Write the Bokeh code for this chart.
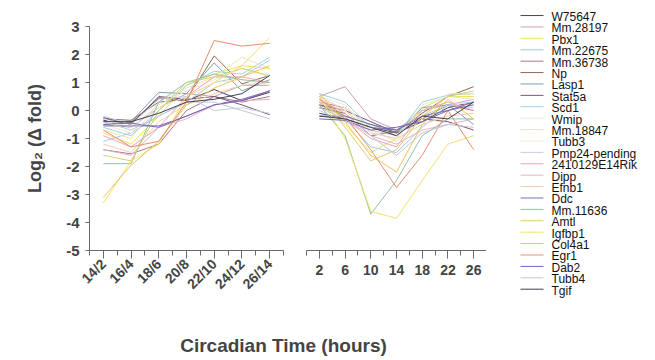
import math
from bokeh.plotting import figure
from bokeh.layouts import column, row
from bokeh.models import Range1d, FixedTicker, Label
from bokeh.core.properties import value
from bokeh.embed import file_html
from bokeh.resources import INLINE

# ---------------- data ----------------
time_labels = ["14/2", "16/4", "18/6", "20/8", "22/10", "24/12", "26/14"]
left_idx = list(range(len(time_labels)))
hours = [2, 6, 10, 14, 18, 22, 26]
y_ticks = [-5, -4, -3, -2, -1, 0, 1, 2, 3]
y_tick_labels = ["-5", "-4", "-3", "-2", "-1", "0", "1", "2", "3"]

genes = ["W75647", "Mm.28197", "Pbx1", "Mm.22675", "Mm.36738", "Np", "Lasp1",
         "Stat5a", "Scd1", "Wmip", "Mm.18847", "Tubb3", "Pmp24-pending",
         "2410129E14Rik", "Dipp", "Efnb1", "Ddc", "Mm.11636", "Amtl", "Igfbp1",
         "Col4a1", "Egr1", "Dab2", "Tubb4", "Tgif"]

# log2 fold, left panel (paired time labels)
left_values = [
    [-0.35, -0.45, 0.45, 0.35, 0.75, 0.35, 0.65],   # W75647
    [-0.5, -0.6, 0.1, 0.6, 0.5, 0.9, 0.9],          # Mm.28197
    [-0.8, -1.2, -0.2, 0.9, 1.3, 1.6, 2.6],         # Pbx1
    [-1.1, -0.8, -0.2, 0.3, 1.0, 1.2, 1.8],         # Mm.22675
    [-1.4, -1.55, -1.2, 0.0, 0.5, 0.3, 0.5],        # Mm.36738
    [-0.3, -0.35, 0.3, 0.4, 1.95, 0.95, 1.25],      # Np
    [-0.5, -0.4, 0.65, 0.6, 1.7, 0.7, 1.1],         # Lasp1
    [-0.25, -0.5, 0.5, 0.4, 0.5, 0.2, -0.15],       # Stat5a
    [-0.6, -0.9, 0.0, 0.9, 1.4, 1.3, 1.9],          # Scd1
    [-0.3, -0.6, 0.2, 0.7, 1.1, 1.5, 1.2],          # Wmip
    [-0.7, -1.0, 0.3, 0.8, 1.2, 1.9, 1.5],          # Mm.18847
    [-0.5, -0.8, 0.1, 0.5, 1.0, 1.1, 0.9],          # Tubb3
    [-0.2, -0.5, 0.4, 0.5, 0.0, 0.1, -0.1],         # Pmp24-pending
    [-0.9, -1.3, -0.6, 0.5, 1.2, 1.2, 1.0],         # 2410129E14Rik
    [-1.4, -1.6, -0.6, -0.3, 0.2, 0.35, 0.4],       # Dipp
    [-1.2, -1.5, -0.4, 0.2, 0.6, 0.9, 1.0],         # Efnb1
    [-0.55, -0.55, -0.55, -0.2, 0.2, 0.4, 0.7],     # Ddc
    [-1.9, -1.9, 0.3, 1.0, 1.3, 1.1, 1.0],          # Mm.11636
    [-1.6, -1.8, 0.0, 1.0, 1.2, 1.5, 1.25],         # Amtl
    [-3.3, -1.8, -1.2, 0.5, 1.0, 1.6, 1.5],         # Igfbp1
    [-3.1, -1.95, -1.1, 0.2, 0.8, 1.2, 1.6],        # Col4a1
    [-0.7, -1.3, -1.1, 0.3, 2.5, 2.3, 2.4],         # Egr1
    [-0.5, -0.45, -0.6, -0.2, 0.2, 0.35, 0.7],      # Dab2
    [-0.4, -0.7, -0.2, 0.3, 0.3, 0.0, -0.3],        # Tubb4
    [-0.4, -0.4, -0.1, 0.3, 0.4, 0.6, 1.25],        # Tgif
]

# log2 fold, right panel (hours)
right_values = [
    [-0.1, -0.3, -0.6, -0.8, -0.4, 0.1, 0.3],       # W75647
    [0.5, 0.85, -0.3, -0.7, 0.0, 0.2, 0.4],         # Mm.28197
    [0.3, -0.5, -1.5, -1.0, 0.1, 0.5, 0.5],         # Pbx1
    [0.4, -0.3, -1.3, -1.5, -0.6, 0.2, 0.3],        # Mm.22675
    [0.3, 0.1, -0.6, -0.7, -0.3, 0.2, 0.0],         # Mm.36738
    [0.1, -0.1, -0.9, -0.75, -0.1, 0.5, 0.85],      # Np
    [0.2, -0.2, -0.5, -0.8, 0.1, 0.2, -0.5],        # Lasp1
    [0.2, 0.0, -0.4, -0.8, -0.3, -0.4, -0.7],       # Stat5a
    [0.6, 0.3, -0.6, -0.9, 0.3, 0.55, 0.6],         # Scd1
    [0.5, 0.2, -0.8, -1.0, 0.2, 0.5, 0.4],          # Wmip
    [0.3, 0.0, -0.7, -1.1, -0.3, 0.6, 0.6],         # Mm.18847
    [0.4, 0.1, -0.6, -0.9, 0.0, 0.3, 0.2],          # Tubb3
    [0.0, -0.4, -0.7, -0.9, -0.2, 0.2, 0.1],        # Pmp24-pending
    [0.3, -0.3, -1.0, -1.3, 0.0, 0.3, 0.0],         # 2410129E14Rik
    [0.4, -0.1, -0.9, -1.2, -0.7, -0.5, -0.3],      # Dipp
    [0.5, 0.0, -0.8, -1.0, -0.5, -0.2, -0.1],       # Efnb1
    [-0.2, -0.2, -0.5, -0.7, -0.2, 0.0, 0.2],       # Ddc
    [0.2, -0.9, -3.7, -2.5, -0.9, -0.3, -0.3],      # Mm.11636
    [0.5, -0.6, -1.8, -1.4, -0.2, 0.5, 0.7],        # Amtl
    [0.5, -1.0, -3.6, -3.85, -2.5, -1.2, -0.9],     # Igfbp1
    [0.6, -0.4, -1.6, -2.2, -0.5, 0.4, -0.3],       # Col4a1
    [0.4, -0.2, -1.4, -2.75, -1.6, 0.0, -1.4],      # Egr1
    [-0.3, -0.35, -0.7, -0.6, -0.4, 0.0, 0.3],      # Dab2
    [0.1, -0.3, -0.9, -1.6, -0.8, -0.5, -0.6],      # Tubb4
    [-0.2, -0.3, -0.6, -0.9, -0.2, -0.3, 0.3],      # Tgif
]

# ---------------- styles ----------------
colors = ["#4a3d5e", "#c9a2b4", "#f0e15e", "#a9c7e2", "#a67a8a", "#8c6a58",
          "#7fa0aa", "#7c5474", "#9fd2e2", "#ece8d8", "#efe4b4", "#f3e9d8",
          "#c6cce6", "#f2a2b2", "#e8b2c4", "#f1cfae", "#7273b4", "#8fc3a2",
          "#d9d06e", "#f0e070", "#f2c25e", "#ea8f6c", "#8163b2", "#c0c7d8",
          "#3f4050"]

FONT = "Liberation Sans"
AXIS_COL = "#6a6a6a"


def style_common(p):
    p.outline_line_color = None
    p.xgrid.grid_line_color = None
    p.ygrid.grid_line_color = None
    p.background_fill_color = "white"
    p.border_fill_color = "white"


def style_xaxis(ax, size):
    ax.major_label_text_font = FONT
    ax.major_label_text_font_style = "bold"
    ax.major_label_text_font_size = size
    ax.axis_line_color = AXIS_COL
    ax.major_tick_line_color = AXIS_COL
    ax.minor_tick_line_color = AXIS_COL
    ax.major_tick_out = 8
    ax.major_tick_in = 0
    ax.minor_tick_out = 5
    ax.minor_tick_in = 0


# ---------------- left panel ----------------
f1 = figure(width=295, height=305, output_backend="svg", toolbar_location=None,
            x_range=Range1d(-0.5, 6.5), y_range=Range1d(-5, 3),
            min_border_left=89, min_border_right=12,
            min_border_top=26, min_border_bottom=55)
style_common(f1)
for vals, c in zip(left_values, colors):
    f1.line(left_idx, vals, line_color=c, line_width=1)

xa = f1.xaxis[0]
xa.ticker = FixedTicker(ticks=left_idx, minor_ticks=[i - 0.5 for i in range(len(left_idx) + 1)])
xa.major_label_overrides = {i: lab for i, lab in zip(left_idx, time_labels)}
xa.major_label_orientation = math.pi / 4
xa.major_label_standoff = 3
style_xaxis(xa, "14px")

ya = f1.yaxis[0]
ya.ticker = FixedTicker(ticks=y_ticks)
ya.major_label_overrides = {t: lab for t, lab in zip(y_ticks, y_tick_labels)}
ya.minor_tick_line_color = None
ya.major_label_text_font = FONT
ya.major_label_text_font_style = "bold"
ya.major_label_text_font_size = "15px"
ya.major_label_standoff = 6
ya.axis_line_color = AXIS_COL
ya.major_tick_line_color = AXIS_COL
ya.major_tick_out = 4
ya.major_tick_in = 0
ya.axis_label = "Log\u2082 (\u0394 fold)"
ya.axis_label_text_font = FONT
ya.axis_label_text_font_style = "bold"
ya.axis_label_text_font_size = "18px"
ya.axis_label_standoff = 18

# ---------------- right panel ----------------
f2 = figure(width=191, height=305, output_backend="svg", toolbar_location=None,
            x_range=Range1d(0, 28), y_range=f1.y_range, y_axis_location=None,
            min_border_left=11, min_border_right=0,
            min_border_top=26, min_border_bottom=55)
style_common(f2)
for vals, c in zip(right_values, colors):
    f2.line(hours, vals, line_color=c, line_width=1)

xb = f2.xaxis[0]
xb.ticker = FixedTicker(ticks=hours, minor_ticks=list(range(0, 29, 4)))
xb.major_label_standoff = 6
style_xaxis(xb, "14px")

# ---------------- legend panel ----------------
leg_rows = list(range(len(genes)))
fl = figure(width=169, height=305, output_backend="svg", toolbar_location=None,
            x_range=Range1d(0, 169), y_range=Range1d(25.3, -1.45),
            x_axis_location=None, y_axis_location=None,
            min_border_left=0, min_border_right=0, min_border_top=0, min_border_bottom=0)
fl.frame_align = False
style_common(fl)
fl.segment(x0=34, x1=57, y0=[r - 0.13 for r in leg_rows], y1=[r - 0.13 for r in leg_rows],
           line_color=colors, line_width=1)
fl.text(x=65, y=leg_rows, text=genes, text_font=value(FONT), text_font_size="12px",
        text_baseline="middle", text_align="left", text_color="#111111")

# ---------------- common x label ----------------
f3 = figure(width=655, height=55, output_backend="svg", toolbar_location=None,
            x_range=Range1d(0, 655), y_range=Range1d(0, 55),
            x_axis_location=None, y_axis_location=None,
            min_border_left=0, min_border_right=0, min_border_top=0, min_border_bottom=0)
f3.frame_align = False
style_common(f3)
f3.add_layout(Label(x=283, y=15, text="Circadian Time (hours)", text_align="center",
                    text_baseline="middle", text_font=FONT, text_font_style="bold",
                    text_font_size="19px"))

layout = column(row(f1, f2, fl), f3)
open("out.html", "w").write(file_html(layout, INLINE))
